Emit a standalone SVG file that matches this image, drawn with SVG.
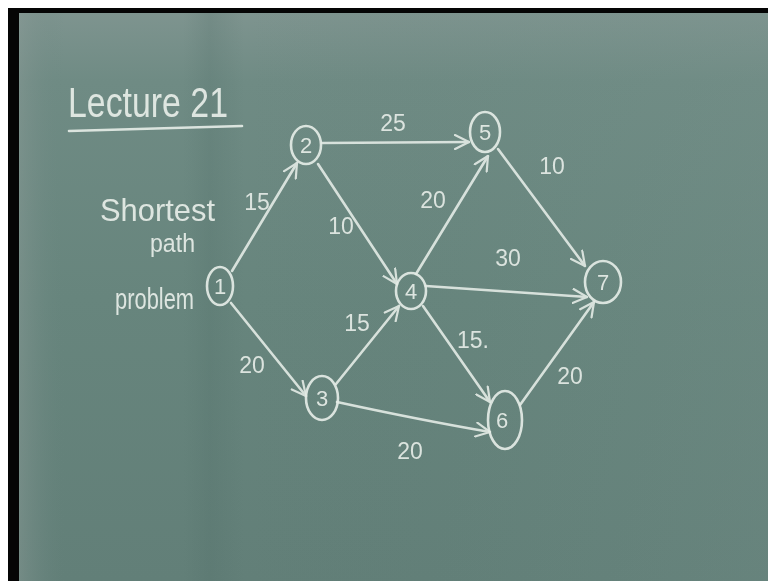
<svg xmlns="http://www.w3.org/2000/svg" width="768" height="581" viewBox="0 0 768 581">
<defs>
<linearGradient id="boardV" x1="0" y1="0" x2="0" y2="1">
<stop offset="0" stop-color="#7e948f"/>
<stop offset="0.12" stop-color="#6f8b84"/>
<stop offset="0.5" stop-color="#67857d"/>
<stop offset="1" stop-color="#627f78"/>
</linearGradient>
<linearGradient id="boardH" x1="0" y1="0" x2="1" y2="0">
<stop offset="0" stop-color="#8a9a96" stop-opacity="0.45"/>
<stop offset="0.06" stop-color="#6a8680" stop-opacity="0"/>
<stop offset="0.22" stop-color="#4d6a64" stop-opacity="0.0"/>
<stop offset="0.255" stop-color="#4d6a64" stop-opacity="0.2"/>
<stop offset="0.30" stop-color="#4d6a64" stop-opacity="0.0"/>
<stop offset="0.7" stop-color="#6f8e86" stop-opacity="0.1"/>
<stop offset="1" stop-color="#7a948e" stop-opacity="0.2"/>
</linearGradient>
<marker id="arr" viewBox="0 0 16 16" refX="15" refY="8" markerWidth="16" markerHeight="16" markerUnits="userSpaceOnUse" orient="auto">
<path d="M1,1 L15,8 L1,15" fill="none" stroke="#e4ebe6" stroke-width="2.2" stroke-linecap="round" stroke-linejoin="round"/>
</marker>
<filter id="chalk" x="-5%" y="-5%" width="110%" height="110%">
<feGaussianBlur stdDeviation="0.5"/>
</filter>
</defs>
<style>
.chalk{fill:none;stroke:#e4ebe6;stroke-width:2.6;stroke-linecap:round;stroke-linejoin:round;opacity:0.92}
.edge{fill:none;stroke:#e4ebe6;stroke-width:2.6;stroke-linecap:round;opacity:0.9;marker-end:url(#arr)}
.txt{font-family:"Liberation Sans","DejaVu Sans",sans-serif;fill:#e8eee9;opacity:0.92}
.num{font-family:"Liberation Sans","DejaVu Sans",sans-serif;fill:#e8eee9;font-size:22px;text-anchor:middle;opacity:0.92}
.lbl{font-family:"Liberation Sans","DejaVu Sans",sans-serif;fill:#e8eee9;font-size:23px;text-anchor:middle;opacity:0.9}
</style>
<rect width="768" height="581" fill="#ffffff"/>
<rect x="8" y="8" width="760" height="573" fill="#050505"/>
<rect x="19" y="13" width="749" height="568" fill="url(#boardV)"/>
<rect x="19" y="13" width="749" height="568" fill="url(#boardH)"/>

<g id="title" filter="url(#chalk)">
<text class="txt" x="68" y="117" font-size="42" textLength="160" lengthAdjust="spacingAndGlyphs">Lecture 21</text>
<path class="chalk" d="M69,131 L242,126"/>
</g>
<g id="subtitle" filter="url(#chalk)">
<text class="txt" x="100" y="221" font-size="32" textLength="115" lengthAdjust="spacingAndGlyphs">Shortest</text>
<text class="txt" x="150" y="252" font-size="26" textLength="45" lengthAdjust="spacingAndGlyphs">path</text>
<text class="txt" transform="translate(115,309) scale(0.73,1)" x="0" y="0" font-size="30">problem</text>
</g>

<g id="connectors" filter="url(#chalk)">
<path class="edge" d="M232,271 L297,163"/>
<path class="edge" d="M231,303 L306,396"/>
<path class="edge" d="M322,143 L469,142"/>
<path class="edge" d="M318,164 L397,284"/>
<path class="edge" d="M336,384 L399,306"/>
<path class="edge" d="M416,274 L488,156"/>
<path class="edge" d="M426,286 L587,297"/>
<path class="edge" d="M423,306 L490,402"/>
<path class="edge" d="M337,402 Q420,420 490,432"/>
<path class="edge" d="M498,149 L585,266"/>
<path class="edge" d="M520,405 L594,302"/>
</g>

<g id="edge-labels" filter="url(#chalk)">
<text class="lbl" x="393" y="131">25</text>
<text class="lbl" x="552" y="174">10</text>
<text class="lbl" x="257" y="210">15</text>
<text class="lbl" x="341" y="234">10</text>
<text class="lbl" x="433" y="208">20</text>
<text class="lbl" x="508" y="266">30</text>
<text class="lbl" x="357" y="331">15</text>
<text class="lbl" x="473" y="348">15.</text>
<text class="lbl" x="252" y="373">20</text>
<text class="lbl" x="570" y="384">20</text>
<text class="lbl" x="410" y="459">20</text>
</g>

<g id="node1" filter="url(#chalk)">
<ellipse class="chalk" cx="220" cy="286" rx="13" ry="19"/>
<text class="num" x="220" y="294">1</text>
</g>
<g id="node2" filter="url(#chalk)">
<ellipse class="chalk" cx="306" cy="145" rx="15" ry="19"/>
<text class="num" x="306" y="153">2</text>
</g>
<g id="node3" filter="url(#chalk)">
<ellipse class="chalk" cx="322" cy="398" rx="16" ry="22"/>
<text class="num" x="322" y="406">3</text>
</g>
<g id="node4" filter="url(#chalk)">
<ellipse class="chalk" cx="411" cy="291" rx="15" ry="18"/>
<text class="num" x="411" y="299">4</text>
</g>
<g id="node5" filter="url(#chalk)">
<ellipse class="chalk" cx="485" cy="132" rx="15" ry="20"/>
<text class="num" x="485" y="140">5</text>
</g>
<g id="node6" filter="url(#chalk)">
<ellipse class="chalk" cx="505" cy="420" rx="17" ry="29"/>
<text class="num" x="502" y="428">6</text>
</g>
<g id="node7" filter="url(#chalk)">
<ellipse class="chalk" cx="603" cy="282" rx="18" ry="21"/>
<text class="num" x="603" y="290">7</text>
</g>
</svg>
